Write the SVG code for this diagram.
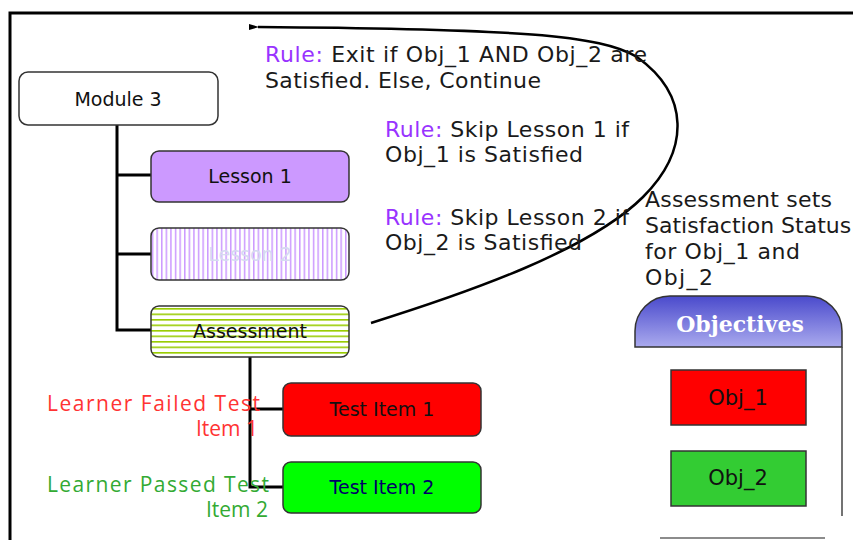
<svg xmlns="http://www.w3.org/2000/svg" width="853" height="540" viewBox="0 0 853 540">
<style>
.box{stroke:#333;stroke-width:1.5}
.conn{fill:none;stroke:#000;stroke-width:3}
.nt{font-family:"DejaVu Sans",Verdana,sans-serif;font-size:19px;text-anchor:middle;fill:#111}
.rt{font-family:"DejaVu Sans",Verdana,sans-serif;font-size:22px;fill:#1a1a1a}
.rl{fill:#9933ff}
.lt{font-family:"Open Sans","DejaVu Sans",sans-serif;font-size:21px;text-anchor:end}
.ot{font-family:"DejaVu Sans",Verdana,sans-serif;font-size:21px;text-anchor:middle;fill:#111}
</style>
<defs>
<pattern id="vstripe" width="4.6" height="10" patternUnits="userSpaceOnUse">
<rect width="4.6" height="10" fill="#fff"/>
<rect x="0" width="1.5" height="10" fill="#cc99ff"/>
</pattern>
<pattern id="hstripe" width="10" height="5.5" patternUnits="userSpaceOnUse">
<rect width="10" height="5.5" fill="#fff"/>
<rect y="0" width="10" height="1.6" fill="#99cc00"/>
</pattern>
<linearGradient id="hdr" x1="0" y1="0" x2="0" y2="1">
<stop offset="0" stop-color="#4a4acc"/>
<stop offset="1" stop-color="#aaaaee"/>
</linearGradient>
<marker id="arr" markerWidth="10" markerHeight="8" refX="1" refY="3.5" orient="auto" markerUnits="userSpaceOnUse">
<path d="M10,0.5 L0,3.5 L10,6.5 Z" fill="#000"/>
</marker>
</defs>
<rect width="853" height="540" fill="#fff"/>
<g id="frame">
<path d="M10,540 V13 H853" fill="none" stroke="#000" stroke-width="3"/>
</g>
<g id="connectors">
<path class="conn" d="M117,125 V330 H151 M117,175 H151 M117,254 H151"/>
<path class="conn" d="M250,357 V487 H283 M250,409 H283"/>
<path fill="none" stroke="#000" stroke-width="2.5" marker-end="url(#arr)" d="M371,323 C470,292 590,250 643,197 C690,150 690,95 637,57 C600,35 520,29 258,27"/>
</g>
<g id="module3">
<rect class="box" x="19" y="72" width="199" height="53" rx="9" fill="#fff"/>
<text class="nt" x="118" y="106">Module 3</text>
</g>
<g id="lesson1">
<rect class="box" x="151" y="151" width="198" height="51" rx="8" fill="#cc99ff"/>
<text class="nt" x="250" y="183">Lesson 1</text>
</g>
<g id="lesson2">
<rect class="box" x="151" y="228" width="198" height="52" rx="8" fill="url(#vstripe)"/>
<text class="nt" x="250" y="261" style="fill:#d6daf0">Lesson 2</text>
</g>
<g id="assessment">
<rect class="box" x="151" y="306" width="198" height="51" rx="8" fill="url(#hstripe)"/>
<text class="nt" x="250" y="338">Assessment</text>
</g>
<g id="testitem1">
<rect class="box" x="283" y="383" width="198" height="53" rx="8" fill="#ff0000"/>
<text class="nt" x="382" y="416">Test Item 1</text>
</g>
<g id="testitem2">
<rect class="box" x="283" y="462" width="198" height="51" rx="8" fill="#00ff00"/>
<text class="nt" x="382" y="494" style="fill:#000066">Test Item 2</text>
</g>
<g id="rules">
<text class="rt" x="265" y="62" textLength="382" lengthAdjust="spacing"><tspan class="rl">Rule:</tspan> Exit if Obj_1 AND Obj_2 are</text>
<text class="rt" x="265" y="88" textLength="276" lengthAdjust="spacing">Satisfied. Else, Continue</text>
<text class="rt" x="385" y="137" textLength="244" lengthAdjust="spacing"><tspan class="rl">Rule:</tspan> Skip Lesson 1 if</text>
<text class="rt" x="385" y="162" textLength="198" lengthAdjust="spacing">Obj_1 is Satisfied</text>
<text class="rt" x="385" y="225" textLength="244" lengthAdjust="spacing"><tspan class="rl">Rule:</tspan> Skip Lesson 2 if</text>
<text class="rt" x="385" y="250" textLength="197" lengthAdjust="spacing">Obj_2 is Satisfied</text>
</g>
<g id="assess-note">
<text class="rt" x="645" y="207" textLength="187" lengthAdjust="spacing">Assessment sets</text>
<text class="rt" x="645" y="233">Satisfaction Status</text>
<text class="rt" x="645" y="259" textLength="155" lengthAdjust="spacing">for Obj_1 and</text>
<text class="rt" x="645" y="285" textLength="68" lengthAdjust="spacing">Obj_2</text>
</g>
<g id="learner-notes">
<text class="lt" x="260" y="411" fill="#ff3333" textLength="213" lengthAdjust="spacing">Learner Failed Test</text>
<text class="lt" x="258" y="436" fill="#ff3333">Item 1</text>
<text class="lt" x="269" y="492" fill="#33aa33" textLength="222" lengthAdjust="spacing">Learner Passed Test</text>
<text class="lt" x="268" y="517" fill="#33aa33">Item 2</text>
</g>
<g id="objectives">
<path d="M635,347 V331 A35,35 0 0 1 670,296 H807 A35,35 0 0 1 842,331 V347 Z" fill="url(#hdr)" stroke="#333" stroke-width="1.5"/>
<path d="M842,347 V516" fill="none" stroke="#444" stroke-width="1.5"/>
<path d="M660,538 H825" fill="none" stroke="#666" stroke-width="1.5"/>
<text x="740" y="332" font-family="'DejaVu Serif',Georgia,serif" font-weight="bold" font-size="22" fill="#fff" text-anchor="middle">Objectives</text>
</g>
<g id="obj1">
<rect x="671" y="370" width="135" height="55" fill="#ff0000" stroke="#333" stroke-width="1.5"/>
<text class="ot" x="738" y="405">Obj_1</text>
</g>
<g id="obj2">
<rect x="671" y="451" width="135" height="55" fill="#33cc33" stroke="#333" stroke-width="1.5"/>
<text class="ot" x="738" y="485">Obj_2</text>
</g>
</svg>
